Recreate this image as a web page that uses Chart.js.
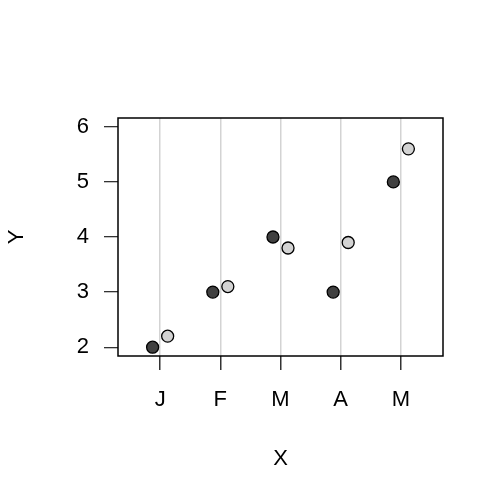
<!DOCTYPE html>
<html>
<head>
<meta charset="utf-8">
<script src="https://cdn.jsdelivr.net/npm/chart.js@4/dist/chart.umd.min.js"></script>
<style>
  html, body { margin: 0; padding: 0; background: #fff; }
  #wrap { width: 504px; height: 504px; }
</style>
</head>
<body>
<div id="wrap"><canvas id="scatter-chart" width="504" height="504"></canvas></div>
<script>
var categories = ['J', 'F', 'M', 'A', 'M'];
var darkValues = [2, 3, 4, 3, 5];
var lightValues = [2.2, 3.1, 3.8, 3.9, 5.6];
var yTicks = [2, 3, 4, 5, 6];

// side-by-side offset of the two groups around each category
var dodge = 0.125;

function toPoints(values, shift) {
    return values.map(function (v, i) {
        return { x: i + 1 + shift, y: v };
    });
}

// box around the plot region, like R's box()
var boxPlugin = {
    id: 'box',
    afterDraw: function (chart) {
        var a = chart.chartArea;
        var ctx = chart.ctx;
        ctx.save();
        ctx.strokeStyle = '#000';
        ctx.lineWidth = 1.5;
        ctx.strokeRect(a.left, a.top, a.right - a.left, a.bottom - a.top);
        ctx.restore();
    }
};

var font = { family: 'Liberation Sans, Arial, sans-serif', size: 22 };

var config = {
    type: 'scatter',
    data: {
        datasets: [{
            label: 'dark',
            data: toPoints(darkValues, -dodge),
            backgroundColor: '#404040',
            borderColor: '#000',
            borderWidth: 1.3,
            pointRadius: 6,
            pointHoverRadius: 6
        }, {
            label: 'light',
            data: toPoints(lightValues, dodge),
            backgroundColor: '#d3d3d3',
            borderColor: '#000',
            borderWidth: 1.3,
            pointRadius: 6,
            pointHoverRadius: 6
        }]
    },
    options: {
        responsive: false,
        animation: false,
        layout: { padding: { top: 118, right: 61, left: 0, bottom: 0 } },
        plugins: {
            legend: { display: false },
            tooltip: { enabled: false }
        },
        scales: {
            x: {
                type: 'linear',
                min: 0.3,
                max: 5.7,
                afterBuildTicks: function (scale) {
                    scale.ticks = categories.map(function (c, i) { return { value: i + 1 }; });
                },
                ticks: {
                    includeBounds: false,
                    autoSkip: false,
                    maxRotation: 0,
                    color: '#000',
                    font: font,
                    padding: 17,
                    callback: function (value) { return categories[Math.round(value) - 1]; }
                },
                grid: {
                    color: '#d3d3d3',
                    lineWidth: 1.5,
                    tickColor: '#333',
                    tickLength: 14,
                    drawTicks: true
                },
                border: { display: false },
                title: {
                    display: true,
                    text: 'X',
                    color: '#000',
                    font: font,
                    padding: { top: 0, bottom: 32 }
                },
                afterFit: function (scale) { scale.height = 148; }
            },
            y: {
                type: 'linear',
                min: 1.84,
                max: 6.16,
                afterBuildTicks: function (scale) {
                    scale.ticks = yTicks.map(function (v) { return { value: v }; });
                },
                ticks: {
                    includeBounds: false,
                    color: '#000',
                    font: font,
                    padding: 15
                },
                grid: {
                    drawOnChartArea: false,
                    tickColor: '#333',
                    tickLength: 14,
                    lineWidth: 1.3
                },
                border: { display: false },
                title: {
                    display: true,
                    text: 'Y',
                    color: '#000',
                    font: font,
                    padding: { top: 4, bottom: 0 }
                },
                afterFit: function (scale) { scale.width = 118; }
            }
        }
    },
    plugins: [boxPlugin]
};

var ctx = document.getElementById('scatter-chart').getContext('2d');
window.myScatter = new Chart(ctx, config);
</script>
</body>
</html>
